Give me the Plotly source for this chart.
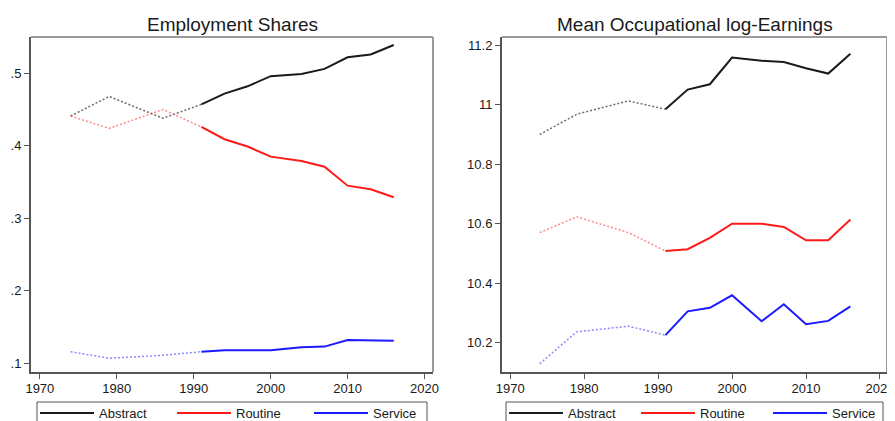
import plotly.graph_objects as go
from plotly.subplots import make_subplots

years = [1974, 1979, 1986, 1991, 1994, 1997, 2000, 2004, 2007, 2010, 2013, 2016]
break_year = 1991

emp_abstract = [0.441, 0.468, 0.438, 0.457, 0.472, 0.482, 0.496, 0.499, 0.506, 0.522, 0.526, 0.539]
emp_routine = [0.441, 0.424, 0.450, 0.426, 0.409, 0.399, 0.385, 0.379, 0.371, 0.345, 0.340, 0.329]
emp_service = [0.116, 0.107, 0.111, 0.116, 0.118, 0.118, 0.118, 0.122, 0.123, 0.132, 0.132, 0.131]

earn_abstract = [10.900, 10.968, 11.013, 10.985, 11.051, 11.069, 11.159, 11.148, 11.144, 11.123, 11.105, 11.172]
earn_routine = [10.570, 10.623, 10.570, 10.508, 10.514, 10.552, 10.600, 10.600, 10.589, 10.544, 10.544, 10.614]
earn_service = [10.129, 10.236, 10.255, 10.225, 10.305, 10.317, 10.359, 10.272, 10.329, 10.262, 10.273, 10.322]

series_names = ["Abstract", "Routine", "Service"]
x_ticks = [1970, 1980, 1990, 2000, 2010, 2020]
emp_ticks = [0.1, 0.2, 0.3, 0.4, 0.5]
emp_tick_labels = [".1", ".2", ".3", ".4", ".5"]
earn_ticks = [10.2, 10.4, 10.6, 10.8, 11.0, 11.2]
earn_tick_labels = ["10.2", "10.4", "10.6", "10.8", "11", "11.2"]

titles = ["Employment Shares", "Mean Occupational log-Earnings"]

solid_colors = ["#1a1a1a", "#ff1a1a", "#1a1aff"]
dot_colors = ["rgba(60,60,60,0.75)", "rgba(255,60,60,0.6)", "rgba(60,60,255,0.6)"]

# page body has an 8px margin, so the figure starts at (8, 8) in the window
OFF = 8
W, H = 895 - OFF, 421 - OFF
FONT = "Liberation Sans, Arial, sans-serif"

# plot regions in window pixels (left, right, top, bottom)
boxes = [(31, 433, 37, 372), (502, 887, 37, 372)]
# legend boxes (left, right) and entry spacing
legend_boxes = [(37, 427, 135), (506, 883, 130)]


def px(v):
    return v - OFF


fig = make_subplots(rows=1, cols=2)

k = years.index(break_year)
panels = [(emp_abstract, emp_routine, emp_service), (earn_abstract, earn_routine, earn_service)]
for p, data in enumerate(panels):
    for s, vals in enumerate(data):
        # dotted early part
        fig.add_trace(go.Scatter(
            x=years[:k + 1], y=vals[:k + 1], mode="lines",
            line=dict(color=dot_colors[s], width=1.5, dash="2px,2px"),
            showlegend=False, hoverinfo="skip"
        ), row=1, col=p + 1)
        fig.add_trace(go.Scatter(
            x=years[k:], y=vals[k:], mode="lines",
            line=dict(color=solid_colors[s], width=2),
            name=series_names[s], legend="legend" if p == 0 else "legend2"
        ), row=1, col=p + 1)

axis_common = dict(
    showgrid=False, zeroline=False, showline=True, linecolor="#555555", linewidth=2,
    ticks="outside", ticklen=5, tickwidth=1, tickcolor="#555555",
    tickfont=dict(family=FONT, size=13, color="#1a1a1a"),
)

for p, (l, r, t, b) in enumerate(boxes):
    xa = "xaxis" if p == 0 else "xaxis2"
    ya = "yaxis" if p == 0 else "yaxis2"
    fig.layout[xa].update(domain=[px(l) / W, px(r) / W],
                          range=[1968.85, 2021.1] if p == 0 else [1968.9, 2020.95],
                          tickvals=x_ticks, ticklabelstandoff=-2, **axis_common)
    if p == 0:
        fig.layout[ya].update(domain=[1 - px(b) / H, 1 - px(t) / H], range=[0.088, 0.550],
                              tickvals=emp_ticks, ticktext=emp_tick_labels, **axis_common)
    else:
        fig.layout[ya].update(domain=[1 - px(b) / H, 1 - px(t) / H], range=[10.101, 11.228],
                              tickvals=earn_ticks, ticktext=earn_tick_labels, **axis_common)
    # lighter top and right frame
    xref = "x domain" if p == 0 else "x2 domain"
    yref = "y domain" if p == 0 else "y2 domain"
    fig.add_shape(type="line", xref=xref, yref=yref, x0=0, x1=1, y0=1, y1=1,
                  line=dict(color="#9a9a9a", width=2))
    fig.add_shape(type="line", xref=xref, yref=yref, x0=1, x1=1, y0=0, y1=1,
                  line=dict(color="#9a9a9a", width=2))
    fig.add_annotation(text=titles[p], xref="paper", yref="paper",
                       x=px((l + r) / 2) / W, y=1 - px(25) / H, xanchor="center", yanchor="middle",
                       showarrow=False, font=dict(family=FONT, size=19, color="#1a1a1a"))

# legend frames (run off the bottom of the picture)
for l, r, _ in legend_boxes:
    fig.add_shape(type="rect", xref="paper", yref="paper",
                  x0=px(l) / W, x1=px(r) / W, y0=1 - px(402) / H, y1=1 - px(445) / H,
                  line=dict(color="#555555", width=1), fillcolor="rgba(0,0,0,0)")

legend_common = dict(
    orientation="h", xanchor="left", yanchor="top", y=1 - px(398) / H,
    borderwidth=0, bgcolor="rgba(0,0,0,0)",
    font=dict(family=FONT, size=13, color="#1a1a1a"),
    entrywidthmode="pixels", itemwidth=54,
)

fig.update_layout(
    width=W, height=H,
    margin=dict(l=0, r=0, t=0, b=0, autoexpand=False),
    plot_bgcolor="white", paper_bgcolor="white",
    legend=dict(x=px(legend_boxes[0][0] - 2) / W, entrywidth=legend_boxes[0][2] - 67, **legend_common),
    legend2=dict(x=px(legend_boxes[1][0] - 2) / W, entrywidth=legend_boxes[1][2] - 67, **legend_common),
)

fig.write_html("out.html")
